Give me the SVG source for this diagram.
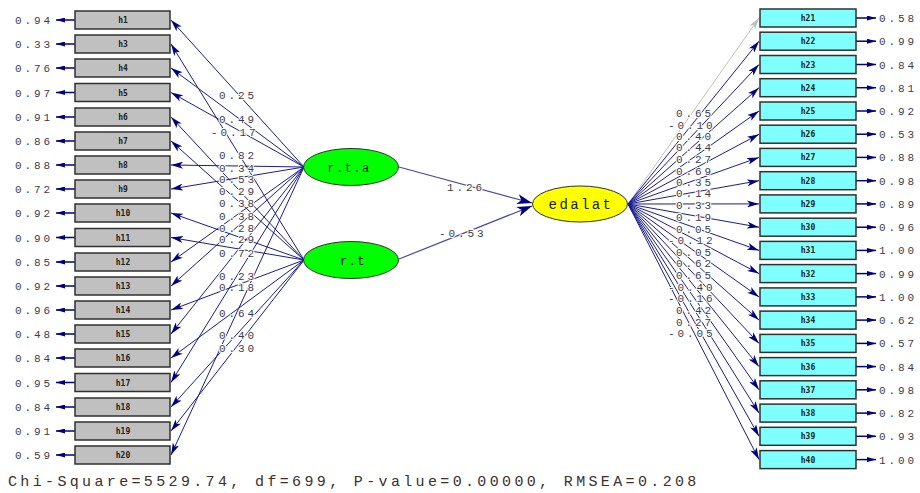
<svg xmlns="http://www.w3.org/2000/svg" width="920" height="493" viewBox="0 0 920 493">
<style>
.bg{fill:#ffffff}
.boxL{fill:#c0c0c0;stroke:#303030;stroke-width:1.5}
.boxR{fill:#80ffff;stroke:#303030;stroke-width:1.5}
.lat{fill:#00ff00;stroke:#303030;stroke-width:1}
.end{fill:#ffff00;stroke:#303030;stroke-width:1}
.bl{font-family:"DejaVu Sans Mono","Liberation Mono",monospace;font-weight:bold;font-size:8px;fill:#202020;text-anchor:middle}
.num{font-family:"Liberation Mono",monospace;font-size:11px;letter-spacing:2.9px;fill:#3c3c50}
.lbl{font-family:"Liberation Mono",monospace;font-size:11px;letter-spacing:2.9px;fill:#3c3c50;stroke:#ffffff;stroke-width:2px;paint-order:stroke}
.lt{font-family:"Liberation Mono",monospace;font-size:12px;letter-spacing:1.5px;fill:#202020;text-anchor:middle}
.ld{stroke:#1c1c8c;stroke-width:1;fill:none;marker-end:url(#ah)}
.ldg{stroke:#c0c0c0;stroke-width:1;fill:none;marker-end:url(#ahg)}
.st{stroke:#4a4aa0;stroke-width:1.2;fill:none;marker-end:url(#ahb)}
.er{stroke:#000080;stroke-width:1.5;fill:none;marker-end:url(#ahe)}
.foot{font-family:"Liberation Mono",monospace;font-size:15px;letter-spacing:3.35px;fill:#3a3030}
</style>
<defs>
<marker id="ah" markerUnits="userSpaceOnUse" markerWidth="12" markerHeight="7" refX="12" refY="3.5" orient="auto"><path d="M0,0 L12,3.5 L0,7 L3,3.5 z" fill="#000080"/></marker>
<marker id="ahg" markerUnits="userSpaceOnUse" markerWidth="12" markerHeight="7" refX="12" refY="3.5" orient="auto"><path d="M0,0 L12,3.5 L0,7 L3,3.5 z" fill="#c0c0c0"/></marker>
<marker id="ahb" markerUnits="userSpaceOnUse" markerWidth="15" markerHeight="10" refX="15" refY="5" orient="auto"><path d="M0,0 L15,5 L0,10 L4,5 z" fill="#000080"/></marker>
<marker id="ahe" markerUnits="userSpaceOnUse" markerWidth="9" markerHeight="5" refX="9" refY="2.5" orient="auto"><path d="M0,0 L9,2.5 L0,5 z" fill="#000080"/></marker>
</defs>
<rect class="bg" x="0" y="0" width="920" height="493"/>

<g id="connectors">
<line class="ld" x1="304" y1="167" x2="171" y2="20"/>
<line class="ld" x1="304" y1="167" x2="171" y2="68"/>
<line class="ld" x1="304" y1="167" x2="171" y2="92.5"/>
<line class="ld" x1="304" y1="167" x2="171" y2="165"/>
<line class="ld" x1="304" y1="167" x2="171" y2="189"/>
<line class="ld" x1="304" y1="167" x2="171" y2="262"/>
<line class="ld" x1="304" y1="167" x2="171" y2="286"/>
<line class="ld" x1="304" y1="167" x2="171" y2="334"/>
<line class="ld" x1="304" y1="167" x2="171" y2="382.5"/>
<line class="ld" x1="304" y1="167" x2="171" y2="455"/>
<line class="ld" x1="304" y1="260" x2="171" y2="44"/>
<line class="ld" x1="304" y1="260" x2="171" y2="117"/>
<line class="ld" x1="304" y1="260" x2="171" y2="141"/>
<line class="ld" x1="304" y1="260" x2="171" y2="213"/>
<line class="ld" x1="304" y1="260" x2="171" y2="237.5"/>
<line class="ld" x1="304" y1="260" x2="171" y2="310"/>
<line class="ld" x1="304" y1="260" x2="171" y2="358"/>
<line class="ld" x1="304" y1="260" x2="171" y2="407"/>
<line class="ld" x1="304" y1="260" x2="171" y2="431"/>
<line class="st" x1="399" y1="167" x2="532" y2="203"/>
<line class="st" x1="399" y1="259" x2="532" y2="206"/>
<line class="ldg" x1="628" y1="204" x2="759" y2="18"/>
<line class="ld" x1="628" y1="204" x2="759" y2="41.2"/>
<line class="ld" x1="628" y1="204" x2="759" y2="64.5"/>
<line class="ld" x1="628" y1="204" x2="759" y2="87.7"/>
<line class="ld" x1="628" y1="204" x2="759" y2="111"/>
<line class="ld" x1="628" y1="204" x2="759" y2="134.2"/>
<line class="ld" x1="628" y1="204" x2="759" y2="157.4"/>
<line class="ld" x1="628" y1="204" x2="759" y2="180.7"/>
<line class="ld" x1="628" y1="204" x2="759" y2="203.9"/>
<line class="ld" x1="628" y1="204" x2="759" y2="227.2"/>
<line class="ld" x1="628" y1="204" x2="759" y2="250.4"/>
<line class="ld" x1="628" y1="204" x2="759" y2="273.6"/>
<line class="ld" x1="628" y1="204" x2="759" y2="296.9"/>
<line class="ld" x1="628" y1="204" x2="759" y2="320.1"/>
<line class="ld" x1="628" y1="204" x2="759" y2="343.4"/>
<line class="ld" x1="628" y1="204" x2="759" y2="366.6"/>
<line class="ld" x1="628" y1="204" x2="759" y2="389.8"/>
<line class="ld" x1="628" y1="204" x2="759" y2="413.1"/>
<line class="ld" x1="628" y1="204" x2="759" y2="436.3"/>
<line class="ld" x1="628" y1="204" x2="759" y2="459.6"/>
<line class="er" x1="75" y1="20" x2="56" y2="20"/>
<line class="er" x1="75" y1="44" x2="56" y2="44"/>
<line class="er" x1="75" y1="68" x2="56" y2="68"/>
<line class="er" x1="75" y1="92.5" x2="56" y2="92.5"/>
<line class="er" x1="75" y1="117" x2="56" y2="117"/>
<line class="er" x1="75" y1="141" x2="56" y2="141"/>
<line class="er" x1="75" y1="165" x2="56" y2="165"/>
<line class="er" x1="75" y1="189" x2="56" y2="189"/>
<line class="er" x1="75" y1="213" x2="56" y2="213"/>
<line class="er" x1="75" y1="237.5" x2="56" y2="237.5"/>
<line class="er" x1="75" y1="262" x2="56" y2="262"/>
<line class="er" x1="75" y1="286" x2="56" y2="286"/>
<line class="er" x1="75" y1="310" x2="56" y2="310"/>
<line class="er" x1="75" y1="334" x2="56" y2="334"/>
<line class="er" x1="75" y1="358" x2="56" y2="358"/>
<line class="er" x1="75" y1="382.5" x2="56" y2="382.5"/>
<line class="er" x1="75" y1="407" x2="56" y2="407"/>
<line class="er" x1="75" y1="431" x2="56" y2="431"/>
<line class="er" x1="75" y1="455" x2="56" y2="455"/>
<line class="er" x1="856" y1="18" x2="876" y2="18"/>
<line class="er" x1="856" y1="41.2" x2="876" y2="41.2"/>
<line class="er" x1="856" y1="64.5" x2="876" y2="64.5"/>
<line class="er" x1="856" y1="87.7" x2="876" y2="87.7"/>
<line class="er" x1="856" y1="111" x2="876" y2="111"/>
<line class="er" x1="856" y1="134.2" x2="876" y2="134.2"/>
<line class="er" x1="856" y1="157.4" x2="876" y2="157.4"/>
<line class="er" x1="856" y1="180.7" x2="876" y2="180.7"/>
<line class="er" x1="856" y1="203.9" x2="876" y2="203.9"/>
<line class="er" x1="856" y1="227.2" x2="876" y2="227.2"/>
<line class="er" x1="856" y1="250.4" x2="876" y2="250.4"/>
<line class="er" x1="856" y1="273.6" x2="876" y2="273.6"/>
<line class="er" x1="856" y1="296.9" x2="876" y2="296.9"/>
<line class="er" x1="856" y1="320.1" x2="876" y2="320.1"/>
<line class="er" x1="856" y1="343.4" x2="876" y2="343.4"/>
<line class="er" x1="856" y1="366.6" x2="876" y2="366.6"/>
<line class="er" x1="856" y1="389.8" x2="876" y2="389.8"/>
<line class="er" x1="856" y1="413.1" x2="876" y2="413.1"/>
<line class="er" x1="856" y1="436.3" x2="876" y2="436.3"/>
<line class="er" x1="856" y1="459.6" x2="876" y2="459.6"/>
</g>

<g id="loading-labels">
<text class="lbl" x="219" y="99">0.25</text>
<text class="lbl" x="219" y="122.5">0.49</text>
<text class="lbl" x="211" y="136">-0.17</text>
<text class="lbl" x="219" y="158.5">0.82</text>
<text class="lbl" x="219" y="171.5">0.34</text>
<text class="lbl" x="219" y="183">0.53</text>
<text class="lbl" x="219" y="194.5">0.29</text>
<text class="lbl" x="219" y="207">0.38</text>
<text class="lbl" x="219" y="220">0.38</text>
<text class="lbl" x="219" y="231.5">0.28</text>
<text class="lbl" x="219" y="243">0.29</text>
<text class="lbl" x="219" y="256.5">0.72</text>
<text class="lbl" x="219" y="279.5">0.23</text>
<text class="lbl" x="219" y="291">0.18</text>
<text class="lbl" x="219" y="317">0.64</text>
<text class="lbl" x="219" y="339">0.40</text>
<text class="lbl" x="219" y="352">0.30</text>
<text class="lbl" x="447" y="191">1.26</text>
<text class="lbl" x="439" y="237">-0.53</text>
<text class="lbl" x="676" y="117">0.65</text>
<text class="lbl" x="668" y="129">-0.10</text>
<text class="lbl" x="676" y="140">0.40</text>
<text class="lbl" x="676" y="151">0.44</text>
<text class="lbl" x="676" y="163">0.27</text>
<text class="lbl" x="676" y="175">0.69</text>
<text class="lbl" x="676" y="186">0.35</text>
<text class="lbl" x="676" y="197">0.14</text>
<text class="lbl" x="676" y="209">0.33</text>
<text class="lbl" x="676" y="221">0.19</text>
<text class="lbl" x="676" y="233">0.05</text>
<text class="lbl" x="668" y="244">-0.12</text>
<text class="lbl" x="676" y="256">0.05</text>
<text class="lbl" x="676" y="267">0.62</text>
<text class="lbl" x="676" y="279">0.65</text>
<text class="lbl" x="668" y="291">-0.40</text>
<text class="lbl" x="668" y="302">-0.16</text>
<text class="lbl" x="676" y="314">0.42</text>
<text class="lbl" x="676" y="326">0.27</text>
<text class="lbl" x="668" y="337">-0.05</text>
</g>

<g id="error-labels">
<text class="num" x="15" y="24">0.94</text>
<text class="num" x="15" y="48">0.33</text>
<text class="num" x="15" y="72">0.76</text>
<text class="num" x="15" y="96.5">0.97</text>
<text class="num" x="15" y="121">0.91</text>
<text class="num" x="15" y="145">0.86</text>
<text class="num" x="15" y="169">0.88</text>
<text class="num" x="15" y="193">0.72</text>
<text class="num" x="15" y="217">0.92</text>
<text class="num" x="15" y="241.5">0.90</text>
<text class="num" x="15" y="266">0.85</text>
<text class="num" x="15" y="290">0.92</text>
<text class="num" x="15" y="314">0.96</text>
<text class="num" x="15" y="338">0.48</text>
<text class="num" x="15" y="362">0.84</text>
<text class="num" x="15" y="386.5">0.95</text>
<text class="num" x="15" y="411">0.84</text>
<text class="num" x="15" y="435">0.91</text>
<text class="num" x="15" y="459">0.59</text>
<text class="num" x="879" y="22">0.58</text>
<text class="num" x="879" y="45.2">0.99</text>
<text class="num" x="879" y="68.5">0.84</text>
<text class="num" x="879" y="91.7">0.81</text>
<text class="num" x="879" y="115">0.92</text>
<text class="num" x="879" y="138.2">0.53</text>
<text class="num" x="879" y="161.4">0.88</text>
<text class="num" x="879" y="184.7">0.98</text>
<text class="num" x="879" y="207.9">0.89</text>
<text class="num" x="879" y="231.2">0.96</text>
<text class="num" x="879" y="254.4">1.00</text>
<text class="num" x="879" y="277.6">0.99</text>
<text class="num" x="879" y="300.9">1.00</text>
<text class="num" x="879" y="324.1">0.62</text>
<text class="num" x="879" y="347.4">0.57</text>
<text class="num" x="879" y="370.6">0.84</text>
<text class="num" x="879" y="393.8">0.98</text>
<text class="num" x="879" y="417.1">0.82</text>
<text class="num" x="879" y="440.3">0.93</text>
<text class="num" x="879" y="463.6">1.00</text>
</g>

<g id="h1"><rect class="boxL" x="75" y="11" width="95" height="18"/><text class="bl" x="123" y="23">h1</text></g>
<g id="h3"><rect class="boxL" x="75" y="35" width="95" height="18"/><text class="bl" x="123" y="47">h3</text></g>
<g id="h4"><rect class="boxL" x="75" y="59" width="95" height="18"/><text class="bl" x="123" y="71">h4</text></g>
<g id="h5"><rect class="boxL" x="75" y="83.5" width="95" height="18"/><text class="bl" x="123" y="95.5">h5</text></g>
<g id="h6"><rect class="boxL" x="75" y="108" width="95" height="18"/><text class="bl" x="123" y="120">h6</text></g>
<g id="h7"><rect class="boxL" x="75" y="132" width="95" height="18"/><text class="bl" x="123" y="144">h7</text></g>
<g id="h8"><rect class="boxL" x="75" y="156" width="95" height="18"/><text class="bl" x="123" y="168">h8</text></g>
<g id="h9"><rect class="boxL" x="75" y="180" width="95" height="18"/><text class="bl" x="123" y="192">h9</text></g>
<g id="h10"><rect class="boxL" x="75" y="204" width="95" height="18"/><text class="bl" x="123" y="216">h10</text></g>
<g id="h11"><rect class="boxL" x="75" y="228.5" width="95" height="18"/><text class="bl" x="123" y="240.5">h11</text></g>
<g id="h12"><rect class="boxL" x="75" y="253" width="95" height="18"/><text class="bl" x="123" y="265">h12</text></g>
<g id="h13"><rect class="boxL" x="75" y="277" width="95" height="18"/><text class="bl" x="123" y="289">h13</text></g>
<g id="h14"><rect class="boxL" x="75" y="301" width="95" height="18"/><text class="bl" x="123" y="313">h14</text></g>
<g id="h15"><rect class="boxL" x="75" y="325" width="95" height="18"/><text class="bl" x="123" y="337">h15</text></g>
<g id="h16"><rect class="boxL" x="75" y="349" width="95" height="18"/><text class="bl" x="123" y="361">h16</text></g>
<g id="h17"><rect class="boxL" x="75" y="373.5" width="95" height="18"/><text class="bl" x="123" y="385.5">h17</text></g>
<g id="h18"><rect class="boxL" x="75" y="398" width="95" height="18"/><text class="bl" x="123" y="410">h18</text></g>
<g id="h19"><rect class="boxL" x="75" y="422" width="95" height="18"/><text class="bl" x="123" y="434">h19</text></g>
<g id="h20"><rect class="boxL" x="75" y="446" width="95" height="18"/><text class="bl" x="123" y="458">h20</text></g>

<g id="h21"><rect class="boxR" x="760" y="9" width="96" height="18"/><text class="bl" x="808" y="21">h21</text></g>
<g id="h22"><rect class="boxR" x="760" y="32.2" width="96" height="18"/><text class="bl" x="808" y="44.2">h22</text></g>
<g id="h23"><rect class="boxR" x="760" y="55.5" width="96" height="18"/><text class="bl" x="808" y="67.5">h23</text></g>
<g id="h24"><rect class="boxR" x="760" y="78.7" width="96" height="18"/><text class="bl" x="808" y="90.7">h24</text></g>
<g id="h25"><rect class="boxR" x="760" y="102" width="96" height="18"/><text class="bl" x="808" y="114">h25</text></g>
<g id="h26"><rect class="boxR" x="760" y="125.2" width="96" height="18"/><text class="bl" x="808" y="137.2">h26</text></g>
<g id="h27"><rect class="boxR" x="760" y="148.4" width="96" height="18"/><text class="bl" x="808" y="160.4">h27</text></g>
<g id="h28"><rect class="boxR" x="760" y="171.7" width="96" height="18"/><text class="bl" x="808" y="183.7">h28</text></g>
<g id="h29"><rect class="boxR" x="760" y="194.9" width="96" height="18"/><text class="bl" x="808" y="206.9">h29</text></g>
<g id="h30"><rect class="boxR" x="760" y="218.2" width="96" height="18"/><text class="bl" x="808" y="230.2">h30</text></g>
<g id="h31"><rect class="boxR" x="760" y="241.4" width="96" height="18"/><text class="bl" x="808" y="253.4">h31</text></g>
<g id="h32"><rect class="boxR" x="760" y="264.6" width="96" height="18"/><text class="bl" x="808" y="276.6">h32</text></g>
<g id="h33"><rect class="boxR" x="760" y="287.9" width="96" height="18"/><text class="bl" x="808" y="299.9">h33</text></g>
<g id="h34"><rect class="boxR" x="760" y="311.1" width="96" height="18"/><text class="bl" x="808" y="323.1">h34</text></g>
<g id="h35"><rect class="boxR" x="760" y="334.4" width="96" height="18"/><text class="bl" x="808" y="346.4">h35</text></g>
<g id="h36"><rect class="boxR" x="760" y="357.6" width="96" height="18"/><text class="bl" x="808" y="369.6">h36</text></g>
<g id="h37"><rect class="boxR" x="760" y="380.8" width="96" height="18"/><text class="bl" x="808" y="392.8">h37</text></g>
<g id="h38"><rect class="boxR" x="760" y="404.1" width="96" height="18"/><text class="bl" x="808" y="416.1">h38</text></g>
<g id="h39"><rect class="boxR" x="760" y="427.3" width="96" height="18"/><text class="bl" x="808" y="439.3">h39</text></g>
<g id="h40"><rect class="boxR" x="760" y="450.6" width="96" height="18"/><text class="bl" x="808" y="462.6">h40</text></g>

<g id="rta"><ellipse class="lat" cx="351" cy="167" rx="47.5" ry="18.5"/><text class="lt" x="349" y="172">r.t.a</text></g>
<g id="rt"><ellipse class="lat" cx="351" cy="260" rx="47.5" ry="18.5"/><text class="lt" x="353" y="265">r.t</text></g>
<g id="edalat"><ellipse class="end" cx="580" cy="204" rx="47.5" ry="18"/><text class="lt" x="581" y="209" style="font-size:14px;letter-spacing:2.4px">edalat</text></g>

<text class="foot" x="8" y="486">Chi-Square=5529.74, df=699, P-value=0.00000, RMSEA=0.208</text>
</svg>
